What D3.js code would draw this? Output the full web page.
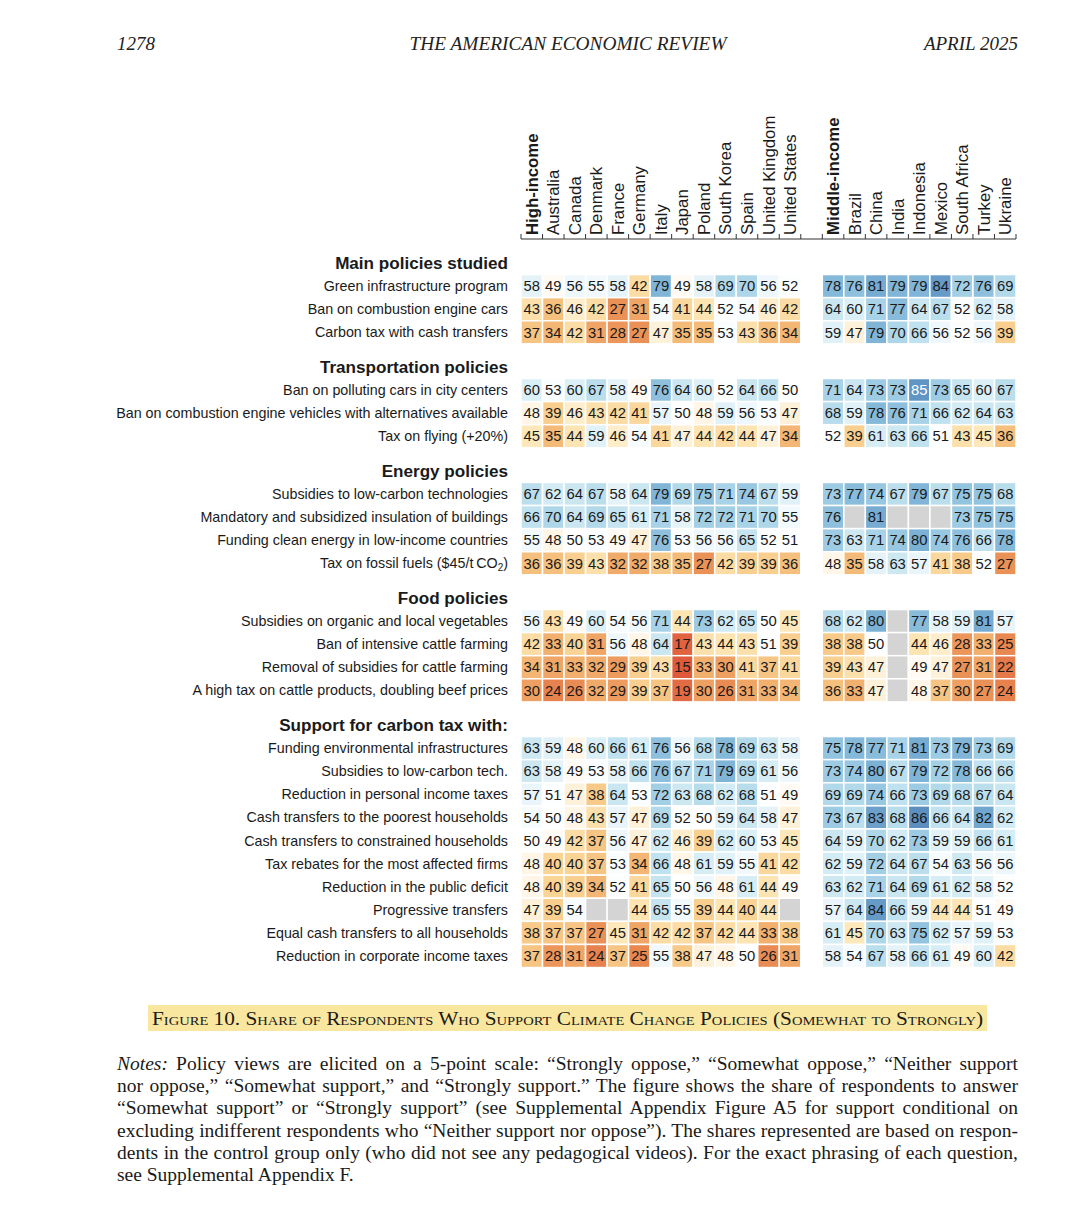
<!DOCTYPE html>
<html>
<head>
<meta charset="utf-8">
<script src="https://cdn.jsdelivr.net/npm/d3@7"></script>
<style>
  body { margin: 0; background: #fff; }
  svg { display: block; }
</style>
</head>
<body>
<svg id="chart" width="1080" height="1215"></svg>
<script>
// column groups
const highCols = ["High-income", "Australia", "Canada", "Denmark", "France", "Germany", "Italy",
  "Japan", "Poland", "South Korea", "Spain", "United Kingdom", "United States"];
const midCols = ["Middle-income", "Brazil", "China", "India", "Indonesia", "Mexico",
  "South Africa", "Turkey", "Ukraine"];

const sections = ["Main policies studied", "Transportation policies", "Energy policies",
  "Food policies", "Support for carbon tax with:"];

const policyLabels = [
  ["Green infrastructure program", "Ban on combustion engine cars", "Carbon tax with cash transfers"],
  ["Ban on polluting cars in city centers",
   "Ban on combustion engine vehicles with alternatives available",
   "Tax on flying (+20%)"],
  ["Subsidies to low-carbon technologies", "Mandatory and subsidized insulation of buildings",
   "Funding clean energy in low-income countries", "Tax on fossil fuels ($45/t\u2009CO\u2082)"],
  ["Subsidies on organic and local vegetables", "Ban of intensive cattle farming",
   "Removal of subsidies for cattle farming", "A high tax on cattle products, doubling beef prices"],
  ["Funding environmental infrastructures", "Subsidies to low-carbon tech.",
   "Reduction in personal income taxes", "Cash transfers to the poorest households",
   "Cash transfers to constrained households", "Tax rebates for the most affected firms",
   "Reduction in the public deficit", "Progressive transfers",
   "Equal cash transfers to all households", "Reduction in corporate income taxes"]
];

// share supporting (%), one row per policy, null = not asked
const highValues = [
  [58, 49, 56, 55, 58, 42, 79, 49, 58, 69, 70, 56, 52],
  [43, 36, 46, 42, 27, 31, 54, 41, 44, 52, 54, 46, 42],
  [37, 34, 42, 31, 28, 27, 47, 35, 35, 53, 43, 36, 34],
  [60, 53, 60, 67, 58, 49, 76, 64, 60, 52, 64, 66, 50],
  [48, 39, 46, 43, 42, 41, 57, 50, 48, 59, 56, 53, 47],
  [45, 35, 44, 59, 46, 54, 41, 47, 44, 42, 44, 47, 34],
  [67, 62, 64, 67, 58, 64, 79, 69, 75, 71, 74, 67, 59],
  [66, 70, 64, 69, 65, 61, 71, 58, 72, 72, 71, 70, 55],
  [55, 48, 50, 53, 49, 47, 76, 53, 56, 56, 65, 52, 51],
  [36, 36, 39, 43, 32, 32, 38, 35, 27, 42, 39, 39, 36],
  [56, 43, 49, 60, 54, 56, 71, 44, 73, 62, 65, 50, 45],
  [42, 33, 40, 31, 56, 48, 64, 17, 43, 44, 43, 51, 39],
  [34, 31, 33, 32, 29, 39, 43, 15, 33, 30, 41, 37, 41],
  [30, 24, 26, 32, 29, 39, 37, 19, 30, 26, 31, 33, 34],
  [63, 59, 48, 60, 66, 61, 76, 56, 68, 78, 69, 63, 58],
  [63, 58, 49, 53, 58, 66, 76, 67, 71, 79, 69, 61, 56],
  [57, 51, 47, 38, 64, 53, 72, 63, 68, 62, 68, 51, 49],
  [54, 50, 48, 43, 57, 47, 69, 52, 50, 59, 64, 58, 47],
  [50, 49, 42, 37, 56, 47, 62, 46, 39, 62, 60, 53, 45],
  [48, 40, 40, 37, 53, 34, 66, 48, 61, 59, 55, 41, 42],
  [48, 40, 39, 34, 52, 41, 65, 50, 56, 48, 61, 44, 49],
  [47, 39, 54, null, null, 44, 65, 55, 39, 44, 40, 44, null],
  [38, 37, 37, 27, 45, 31, 42, 42, 37, 42, 44, 33, 38],
  [37, 28, 31, 24, 37, 25, 55, 38, 47, 48, 50, 26, 31]
];
const midValues = [
  [78, 76, 81, 79, 79, 84, 72, 76, 69],
  [64, 60, 71, 77, 64, 67, 52, 62, 58],
  [59, 47, 79, 70, 66, 56, 52, 56, 39],
  [71, 64, 73, 73, 85, 73, 65, 60, 67],
  [68, 59, 78, 76, 71, 66, 62, 64, 63],
  [52, 39, 61, 63, 66, 51, 43, 45, 36],
  [73, 77, 74, 67, 79, 67, 75, 75, 68],
  [76, null, 81, null, null, null, 73, 75, 75],
  [73, 63, 71, 74, 80, 74, 76, 66, 78],
  [48, 35, 58, 63, 57, 41, 38, 52, 27],
  [68, 62, 80, null, 77, 58, 59, 81, 57],
  [38, 38, 50, null, 44, 46, 28, 33, 25],
  [39, 43, 47, null, 49, 47, 27, 31, 22],
  [36, 33, 47, null, 48, 37, 30, 27, 24],
  [75, 78, 77, 71, 81, 73, 79, 73, 69],
  [73, 74, 80, 67, 79, 72, 78, 66, 66],
  [69, 69, 74, 66, 73, 69, 68, 67, 64],
  [73, 67, 83, 68, 86, 66, 64, 82, 62],
  [64, 59, 70, 62, 73, 59, 59, 66, 61],
  [62, 59, 72, 64, 67, 54, 63, 56, 56],
  [63, 62, 71, 64, 69, 61, 62, 58, 52],
  [57, 64, 84, 66, 59, 44, 44, 51, 49],
  [61, 45, 70, 63, 75, 62, 57, 59, 53],
  [58, 54, 67, 58, 66, 61, 49, 60, 42]
];

const noteLines = [
  "Policy views are elicited on a 5-point scale: \u201cStrongly oppose,\u201d \u201cSomewhat oppose,\u201d \u201cNeither support",
  "nor oppose,\u201d \u201cSomewhat support,\u201d and \u201cStrongly support.\u201d The figure shows the share of respondents to answer",
  "\u201cSomewhat support\u201d or \u201cStrongly support\u201d (see Supplemental Appendix Figure A5 for support conditional on",
  "excluding indifferent respondents who \u201cNeither support nor oppose\u201d). The shares represented are based on respon-",
  "dents in the control group only (who did not see any pedagogical videos). For the exact phrasing of each question,",
  "see Supplemental Appendix F."
];

const svg = d3.select("#chart");
const sans = "'Liberation Sans', Arial, Helvetica, sans-serif";
const serif = "'Liberation Serif', 'Times New Roman', Times, serif";

// page header
const head = svg.append("g")
  .attr("font-family", serif)
  .attr("font-style", "italic")
  .attr("font-size", 19)
  .attr("fill", "#222");
head.append("text").attr("x", 117).attr("y", 50).text("1278");
head.append("text").attr("x", 568).attr("y", 50).attr("text-anchor", "middle")
  .attr("textLength", 317).attr("lengthAdjust", "spacingAndGlyphs")
  .text("THE AMERICAN ECONOMIC REVIEW");
head.append("text").attr("x", 1018).attr("y", 50).attr("text-anchor", "end")
  .text("APRIL 2025");

// scales
const columns = [...highCols, "gap", ...midCols];
const x = d3.scaleBand().domain(columns).range([521, 1016]);

let slot = 0;
const headerSlots = [];
const rows = [];
policyLabels.forEach((labels, s) => {
  headerSlots.push({ label: sections[s], slot: slot });
  slot += 1;
  labels.forEach(label => {
    rows.push({ label, slot, index: rows.length });
    slot += 1;
  });
  slot += 0.5;
});
const lastSlot = rows[rows.length - 1].slot;
const y = d3.scaleLinear().domain([0, lastSlot]).range([263, 956]);
const cellH = y(1) - y(0);

const color = d3.scaleLinear()
  .domain([15, 20, 25, 30, 35, 40, 45, 48, 50, 53, 56, 60, 65, 70, 75, 80, 86])
  .range(["#de5a3a", "#e36f45", "#e88750", "#eea062", "#f4bb78", "#f9d495", "#fde8bb",
    "#fff6e8", "#ffffff", "#fafdfe", "#eef7fb", "#dbeff6", "#c5e4f0", "#add6e9",
    "#93c4df", "#7bb1d5", "#5c8fc0"]);

// column headers
const axisY = 239;
svg.append("line")
  .attr("x1", x.range()[0]).attr("x2", x.range()[1])
  .attr("y1", axisY).attr("y2", axisY)
  .attr("stroke", "#333").attr("stroke-width", 1);

const edges = columns.map(c => x(c)).concat([x.range()[1]]);
svg.selectAll(".tick")
  .data(edges)
  .join("line")
  .attr("class", "tick")
  .attr("x1", d => d).attr("x2", d => d)
  .attr("y1", axisY).attr("y2", axisY - 5)
  .attr("stroke", "#333").attr("stroke-width", 1);

svg.selectAll(".colLabel")
  .data(columns.filter(c => c !== "gap"))
  .join("text")
  .attr("class", "colLabel")
  .attr("transform", d => `translate(${x(d) + x.bandwidth() / 2 + 6},${axisY - 4}) rotate(-90)`)
  .attr("font-family", sans)
  .attr("font-size", 16.8)
  .attr("font-weight", d => d.endsWith("-income") ? "bold" : "normal")
  .attr("fill", "#1a1a1a")
  .text(d => d);

// section headers
svg.selectAll(".section")
  .data(headerSlots)
  .join("text")
  .attr("class", "section")
  .attr("x", 508)
  .attr("y", d => y(d.slot) + 6)
  .attr("text-anchor", "end")
  .attr("font-family", sans)
  .attr("font-size", 17.1)
  .attr("font-weight", "bold")
  .attr("fill", "#1a1a1a")
  .text(d => d.label);

// row labels
const rowText = svg.selectAll(".rowLabel")
  .data(rows)
  .join("text")
  .attr("class", "rowLabel")
  .attr("x", 508)
  .attr("y", d => y(d.slot) + 5)
  .attr("text-anchor", "end")
  .attr("font-family", sans)
  .attr("font-size", 14.3)
  .attr("fill", "#1a1a1a");

rowText.each(function(d) {
  const t = d3.select(this);
  const parts = d.label.split("\u2082");
  if (parts.length === 1) {
    t.text(d.label);
    return;
  }
  t.append("tspan").text(parts[0]);
  t.append("tspan").attr("font-size", 10).attr("dy", 3).text("2");
  t.append("tspan").attr("dy", -3).text(parts[1]);
});

// cells
const cells = [];
rows.forEach((r, i) => {
  highCols.forEach((c, j) => cells.push({ col: c, slot: r.slot, value: highValues[i][j] }));
  midCols.forEach((c, j) => cells.push({ col: c, slot: r.slot, value: midValues[i][j] }));
});

svg.selectAll(".cell")
  .data(cells)
  .join("rect")
  .attr("class", "cell")
  .attr("x", d => x(d.col))
  .attr("y", d => y(d.slot) - cellH / 2)
  .attr("width", x.bandwidth())
  .attr("height", cellH)
  .attr("fill", d => d.value === null ? "#d4d4d4" : color(d.value))
  .attr("stroke", "#fff")
  .attr("stroke-width", 1.5);

svg.selectAll(".cellText")
  .data(cells.filter(d => d.value !== null))
  .join("text")
  .attr("class", "cellText")
  .attr("x", d => x(d.col) + x.bandwidth() / 2)
  .attr("y", d => y(d.slot) + 5.2)
  .attr("text-anchor", "middle")
  .attr("font-family", sans)
  .attr("font-size", 14.8)
  .attr("fill", d => d.value === 85 ? "#fff" : "#1a1a1a")
  .text(d => d.value);

// caption
svg.append("rect")
  .attr("x", 148).attr("y", 1005)
  .attr("width", 839).attr("height", 26)
  .attr("fill", "#f9e79f");
svg.append("text")
  .attr("x", 152).attr("y", 1025)
  .attr("font-family", serif)
  .attr("font-size", 19)
  .attr("fill", "#1a1a1a")
  .style("font-variant", "small-caps")
  .attr("textLength", 831)
  .attr("lengthAdjust", "spacingAndGlyphs")
  .text("Figure 10. Share of Respondents Who Support Climate Change Policies (Somewhat to Strongly)");

// notes, justified line by line
const notes = svg.append("g")
  .attr("font-family", serif)
  .attr("font-size", 19.5)
  .attr("fill", "#1a1a1a");

noteLines.forEach((line, i) => {
  const t = notes.append("text")
    .attr("x", 117)
    .attr("y", 1070 + i * 22.2);
  let spaces = (line.match(/ /g) || []).length;
  if (i === 0) {
    t.append("tspan").attr("font-style", "italic").text("Notes:");
    t.append("tspan").text(" " + line);
    spaces += 1;
  } else {
    t.text(line);
  }
  if (i < noteLines.length - 1) {
    const natural = t.node().getComputedTextLength();
    t.attr("word-spacing", (901 - natural) / spaces);
  }
});
</script>
</body>
</html>
